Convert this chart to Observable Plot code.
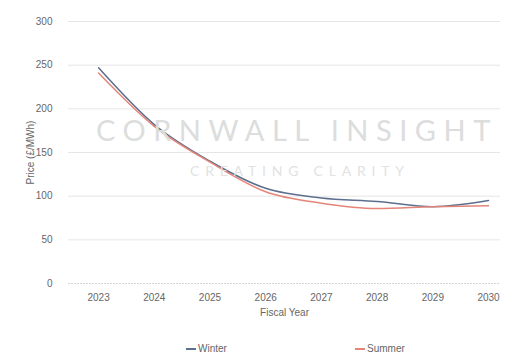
<!DOCTYPE html>
<html>
<head>
<meta charset="utf-8">
<script src="https://cdn.jsdelivr.net/npm/d3@7"></script>
<script src="https://cdn.jsdelivr.net/npm/@observablehq/plot@0.6"></script>
<style>
  html, body { margin: 0; padding: 0; background: #fff; }
  body { width: 506px; height: 353px; overflow: hidden; position: relative; font-family: "Liberation Sans", Arial, sans-serif; }
  #wm1 { position: absolute; left: 96px; top: 112px; font-size: 29px; letter-spacing: 7.5px; color: #dcdddd; font-family: "Lato", sans-serif; font-weight: 400; white-space: nowrap; pointer-events: none; }
  #wm2 { position: absolute; left: 190px; top: 162px; font-size: 14px; letter-spacing: 5.8px; color: #e2e2e2; font-family: "Lato", sans-serif; white-space: nowrap; pointer-events: none; }
  #legend { position: absolute; top: 343px; left: 0; width: 506px; font-size: 10px; color: #666; }
  .item { position: absolute; display: flex; align-items: center; gap: 2px; }
  .sw { width: 10px; height: 2px; display: inline-block; }
</style>
</head>
<body>
<div id="chart"></div>
<div id="wm1">CORNWALL INSIGHT</div>
<div id="wm2">CREATING CLARITY</div>
<div id="legend"></div>
<script>
const years = [2023, 2024, 2025, 2026, 2027, 2028, 2029, 2030];
const winter = [247, 182, 140, 109, 98, 94, 88, 95];
const summer = [241, 180, 139, 105, 92, 86, 88, 89];
const yTicks = [0, 50, 100, 150, 200, 250, 300];
const seriesNames = ["Winter", "Summer"];
const seriesColors = ["#5c6f8e", "#e4857a"];

const data = [];
years.forEach((y, i) => {
  data.push({year: y, value: winter[i], series: "Winter"});
  data.push({year: y, value: summer[i], series: "Summer"});
});

const chart = Plot.plot({
  width: 506,
  height: 335,
  marginLeft: 68,
  marginRight: 6,
  marginTop: 21,
  marginBottom: 52,
  style: {fontFamily: "Liberation Sans, Arial, sans-serif", fontSize: "10px", color: "#666"},
  x: {type: "linear", domain: [2022.46, 2030.215], ticks: years, tickFormat: d => String(d), label: "Fiscal Year", labelArrow: "none", labelAnchor: "center", labelOffset: 32, tickSize: 0, tickPadding: 10},
  y: {domain: [0, 300], ticks: yTicks, label: "Price (£/MWh)", labelArrow: "none", labelAnchor: "center", labelOffset: 42, tickSize: 0, tickPadding: 16},
  color: {domain: seriesNames, range: seriesColors},
  marks: [
    Plot.gridY(yTicks.filter(d => d > 0), {stroke: "#e6e6e6", strokeOpacity: 1, strokeWidth: 1}),
    Plot.ruleY([0], {stroke: "#d4d4d4", strokeDasharray: "2,1"}),
    Plot.line(data, {x: "year", y: "value", z: "series", stroke: "series", strokeWidth: 1.5, curve: "monotone-x"})
  ]
});
document.getElementById("chart").appendChild(chart);

const legend = document.getElementById("legend");
const lefts = [186, 355];
seriesNames.forEach((n, i) => {
  const el = document.createElement("div");
  el.className = "item";
  el.style.left = lefts[i] + "px";
  el.innerHTML = `<span class="sw" style="background:${seriesColors[i]}"></span><span>${n}</span>`;
  legend.appendChild(el);
});
</script>
</body>
</html>
